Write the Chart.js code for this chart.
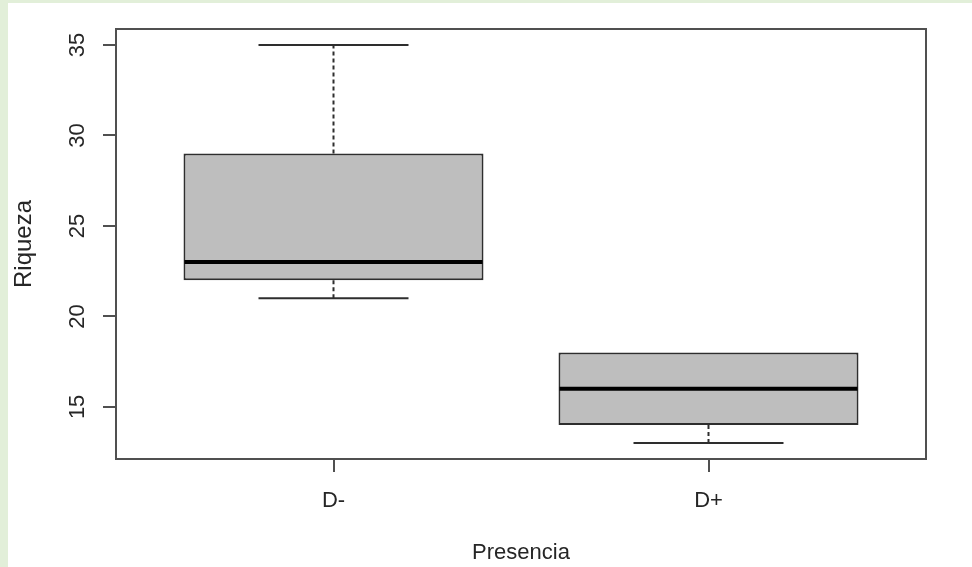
<!DOCTYPE html>
<html>
<head>
<meta charset="utf-8">
<script src="https://cdn.jsdelivr.net/npm/chart.js@4.4.0/dist/chart.umd.min.js"></script>
<style>
  html, body { margin: 0; padding: 0; background: #fff; }
  canvas { display: block; }
</style>
</head>
<body>
<canvas id="box" width="972" height="567"></canvas>
<script>
// Riqueza by Presencia (R-style boxplot)
const groups = ['D-', 'D+'];
const groupPos = [1, 2];
const lowWhisker = [21, 13];
const q1 = [22, 14];
const median = [23, 16];
const q3 = [29, 18];
const highWhisker = [35, 18];
const yTicks = [15, 20, 25, 30, 35];

const BOX_HALF = 0.4;     // boxwex 0.8
const STAPLE_HALF = 0.2;  // staplewex 0.5
const FONT = '22px "Liberation Sans", Arial, sans-serif';
const TEXT = '#262626';
const INK = '#2e2e2e';

function line(ctx, x1, y1, x2, y2) {
  ctx.beginPath();
  ctx.moveTo(x1, y1);
  ctx.lineTo(x2, y2);
  ctx.stroke();
}

const boxExtras = {
  id: 'boxExtras',
  beforeDraw(chart) {
    const ctx = chart.ctx;
    ctx.save();
    ctx.fillStyle = '#fff';
    ctx.fillRect(0, 0, chart.width, chart.height);
    // light green page border (top + left)
    ctx.fillStyle = '#e2efd9';
    ctx.fillRect(0, 0, chart.width, 3);
    ctx.fillRect(0, 0, 8, chart.height);
    ctx.restore();
  },
  afterDatasetsDraw(chart) {
    const { ctx, scales: { x, y } } = chart;
    ctx.save();
    groupPos.forEach((g, i) => {
      const cx = x.getPixelForValue(g);
      // dashed whiskers
      ctx.strokeStyle = INK;
      ctx.lineWidth = 2;
      ctx.setLineDash([4, 3]);
      if (highWhisker[i] > q3[i]) line(ctx, cx, y.getPixelForValue(q3[i]), cx, y.getPixelForValue(highWhisker[i]));
      if (lowWhisker[i] < q1[i]) line(ctx, cx, y.getPixelForValue(q1[i]), cx, y.getPixelForValue(lowWhisker[i]));
      ctx.setLineDash([]);
      // staples
      const sl = x.getPixelForValue(g - STAPLE_HALF);
      const sr = x.getPixelForValue(g + STAPLE_HALF);
      if (highWhisker[i] > q3[i]) line(ctx, sl, y.getPixelForValue(highWhisker[i]), sr, y.getPixelForValue(highWhisker[i]));
      if (lowWhisker[i] < q1[i]) line(ctx, sl, y.getPixelForValue(lowWhisker[i]), sr, y.getPixelForValue(lowWhisker[i]));
      // median
      ctx.strokeStyle = '#000';
      ctx.lineWidth = 4;
      line(ctx, x.getPixelForValue(g - BOX_HALF) + 1, y.getPixelForValue(median[i]),
                x.getPixelForValue(g + BOX_HALF) - 1, y.getPixelForValue(median[i]));
    });
    ctx.restore();
  },
  afterDraw(chart) {
    const { ctx, chartArea: a, scales: { x, y } } = chart;
    ctx.save();
    // plot frame
    ctx.strokeStyle = '#505050';
    ctx.lineWidth = 2;
    ctx.strokeRect(a.left, a.top, a.right - a.left, a.bottom - a.top);

    ctx.fillStyle = TEXT;
    ctx.font = FONT;
    ctx.textAlign = 'center';
    ctx.textBaseline = 'middle';
    // x tick labels
    groupPos.forEach((g, i) => ctx.fillText(groups[i], x.getPixelForValue(g), 501));
    // y tick labels (rotated, like R las=0)
    yTicks.forEach(v => {
      ctx.save();
      ctx.translate(78, y.getPixelForValue(v));
      ctx.rotate(-Math.PI / 2);
      ctx.fillText(String(v), 0, 0);
      ctx.restore();
    });
    // axis titles
    ctx.fillText('Presencia', (a.left + a.right) / 2, 553);
    ctx.save();
    ctx.font = '24px "Liberation Sans", Arial, sans-serif';
    ctx.translate(24, (a.top + a.bottom) / 2);
    ctx.rotate(-Math.PI / 2);
    ctx.fillText('Riqueza', 0, 0);
    ctx.restore();
    ctx.restore();
  }
};

new Chart(document.getElementById('box'), {
  type: 'bar',
  data: {
    datasets: [{
      label: 'Riqueza',
      data: groupPos.map((p, i) => ({ x: p, y: [q1[i], q3[i]] })),
      backgroundColor: '#bebebe',
      borderColor: INK,
      borderWidth: 2,
      borderSkipped: false,
      categoryPercentage: 0.8,
      barPercentage: 1
    }]
  },
  options: {
    responsive: false,
    animation: false,
    layout: { padding: { left: 0, top: 29, right: 46, bottom: 0 } },
    plugins: { legend: { display: false }, tooltip: { enabled: false } },
    scales: {
      x: {
        type: 'linear',
        offset: false,
        min: 0.42,
        max: 2.58,
        afterBuildTicks: s => { s.ticks = groupPos.map(v => ({ value: v })); },
        afterFit: s => { s.height = 108; },
        ticks: { display: false },
        border: { display: false },
        grid: { offset: false, drawOnChartArea: false, drawTicks: true, tickLength: 13, color: '#505050', lineWidth: 2 }
      },
      y: {
        min: 12.12,
        max: 35.88,
        afterBuildTicks: s => { s.ticks = yTicks.map(v => ({ value: v })); },
        afterFit: s => { s.width = 116; },
        ticks: { display: false },
        border: { display: false },
        grid: { drawOnChartArea: false, drawTicks: true, tickLength: 13, color: '#505050', lineWidth: 2 }
      }
    }
  },
  plugins: [boxExtras]
});
</script>
</body>
</html>
